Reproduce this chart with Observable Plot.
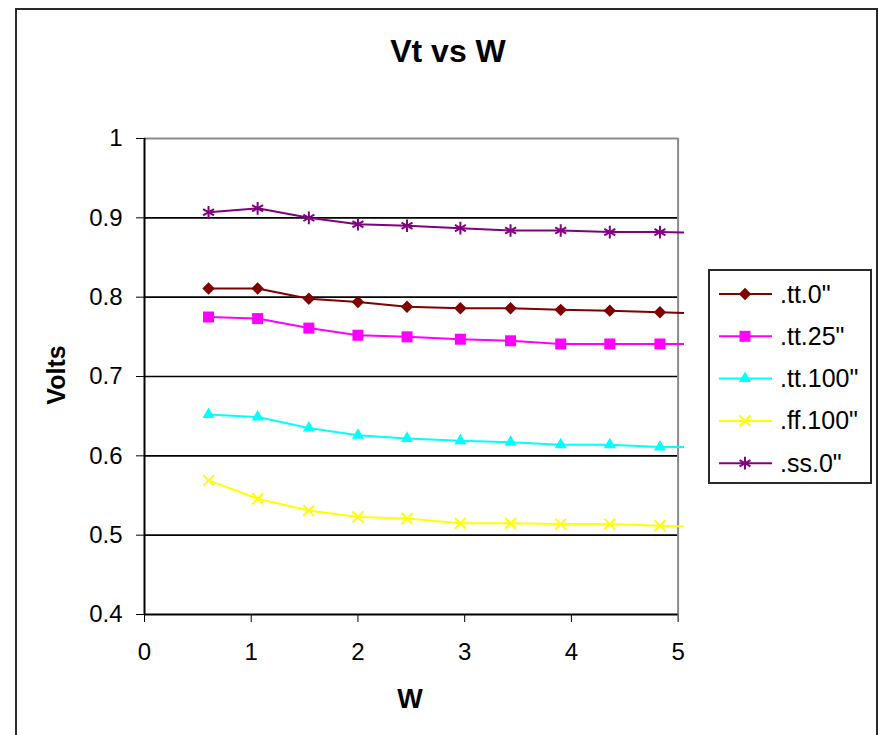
<!DOCTYPE html>
<html>
<head>
<meta charset="utf-8">
<script src="https://cdn.jsdelivr.net/npm/d3@7"></script>
<script src="https://cdn.jsdelivr.net/npm/@observablehq/plot@0.6"></script>
<style>
  html, body { margin: 0; padding: 0; background: #fff; }
  #wrap { position: relative; width: 879px; height: 735px; overflow: hidden; background: #fff; font-family: "Liberation Sans", Arial, sans-serif; }
  #wrap > svg, #wrap > div { position: absolute; left: 0; top: 0; }
  #frame { box-sizing: border-box; left: 15px !important; top: 8px !important; width: 863px; height: 780px; border: 2px solid #2a2a2a; pointer-events: none; }
  #overlay { pointer-events: none; }
</style>
</head>
<body>
<div id="wrap"></div>
<script>
// ---- data ----
const chartTitle = "Vt vs W";
const xTitle = "W";
const yTitle = "Volts";
const xVals = [0.6, 1.06, 1.54, 2.0, 2.46, 2.96, 3.43, 3.9, 4.36, 4.83, 5.3];
const seriesNames = ['.tt.0"', '.tt.25"', '.tt.100"', '.ff.100"', '.ss.0"'];
const tt0   = [0.811, 0.811, 0.798, 0.794, 0.788, 0.786, 0.786, 0.784, 0.783, 0.781, 0.779];
const tt25  = [0.775, 0.773, 0.761, 0.752, 0.750, 0.747, 0.745, 0.741, 0.741, 0.741, 0.741];
const tt100 = [0.652, 0.649, 0.635, 0.626, 0.622, 0.619, 0.617, 0.614, 0.614, 0.611, 0.611];
const ff100 = [0.569, 0.546, 0.531, 0.523, 0.521, 0.515, 0.515, 0.514, 0.514, 0.512, 0.510];
const ss0   = [0.907, 0.912, 0.900, 0.892, 0.890, 0.887, 0.884, 0.884, 0.882, 0.882, 0.881];
const xTicks = [0, 1, 2, 3, 4, 5];
const xTickLabels = ["0", "1", "2", "3", "4", "5"];
const yTicks = [0.4, 0.5, 0.6, 0.7, 0.8, 0.9, 1];
const yTickLabels = ["0.4", "0.5", "0.6", "0.7", "0.8", "0.9", "1"];
const gridY = [0.5, 0.6, 0.7, 0.8, 0.9];

// ---- styles ----
const colors = ["#800000", "#FF00FF", "#00FFFF", "#FFFF00", "#800080"];
const symbols = ["diamond2", "square2", "triangle2", "times", "asterisk"];
const radii = [5.6, 7, 5.8, 5, 6];
const filled = [true, true, true, false, false];

const seriesValues = [tt0, tt25, tt100, ff100, ss0];
const rows = seriesNames.flatMap((name, s) =>
  seriesValues[s].map((v, i) => ({series: name, x: xVals[i], y: v})));

const xMin = 0, xMax = 5, yMin = 0.4, yMax = 1;
const font = '"Liberation Sans", Arial, sans-serif';

const marks = [
  Plot.ruleY(gridY, {x1: xMin, x2: xMax, stroke: "#000", strokeWidth: 1.6}),
  Plot.ruleY([yMax], {x1: xMin, x2: xMax, stroke: "#8a8a8a", strokeWidth: 2}),
  Plot.ruleX([xMax], {y1: yMin, y2: yMax, stroke: "#8a8a8a", strokeWidth: 2}),
  Plot.ruleX([xMin], {y1: yMin, y2: yMax, stroke: "#000", strokeWidth: 2}),
  Plot.ruleY([yMin], {x1: xMin, x2: xMax, stroke: "#000", strokeWidth: 2})
];
seriesNames.forEach((name, s) => {
  const d = rows.filter(r => r.series === name);
  marks.push(Plot.line(d, {x: "x", y: "y", stroke: colors[s], strokeWidth: 2, clip: true}));
});
seriesNames.forEach((name, s) => {
  const d = rows.filter(r => r.series === name);
  marks.push(Plot.dot(d, filled[s]
    ? {x: "x", y: "y", symbol: symbols[s], r: radii[s], fill: colors[s], stroke: "none", clip: true}
    : {x: "x", y: "y", symbol: symbols[s], r: radii[s], fill: "none", stroke: colors[s], strokeWidth: 2, clip: true}));
});

const W = 879, H = 735;
const chart = Plot.plot({
  width: W,
  height: H,
  marginLeft: 144,
  marginRight: 195,
  marginTop: 138,
  marginBottom: 121,
  style: {fontSize: "24px", fontFamily: font, color: "#000", background: "#fff", overflow: "visible"},
  x: {domain: [xMin, 5.06], ticks: xTicks, tickFormat: d => xTickLabels[xTicks.indexOf(d)], tickSize: 8, tickPadding: 20, label: null},
  y: {domain: [yMin, yMax], ticks: yTicks, tickFormat: d => yTickLabels[yTicks.indexOf(d)], tickSize: 8, tickPadding: 14, label: null},
  marks
});
const wrap = document.getElementById("wrap");
wrap.appendChild(chart);

const frame = document.createElement("div");
frame.id = "frame";
wrap.appendChild(frame);

// ---- overlay: titles and legend ----
const ov = d3.create("svg").attr("id", "overlay").attr("width", W).attr("height", H)
  .style("font-family", font);
ov.append("text").attr("x", 448).attr("y", 61.5).attr("text-anchor", "middle")
  .attr("font-size", 32).attr("font-weight", "bold").text(chartTitle);
ov.append("text").attr("x", 410).attr("y", 707.5).attr("text-anchor", "middle")
  .attr("font-size", 27).attr("font-weight", "bold").text(xTitle);
ov.append("text").attr("transform", "translate(65,375) rotate(-90)").attr("text-anchor", "middle")
  .attr("font-size", 25).attr("font-weight", "bold").text(yTitle);

const lg = ov.append("g");
lg.append("rect").attr("x", 709).attr("y", 270).attr("width", 162).attr("height", 213)
  .attr("fill", "#fff").attr("stroke", "#2a2a2a").attr("stroke-width", 2);
const d3sym = {diamond2: d3.symbolDiamond2, square2: d3.symbolSquare2, triangle2: d3.symbolTriangle2, times: d3.symbolTimes, asterisk: d3.symbolAsterisk};
seriesNames.forEach((name, s) => {
  const cy = 294 + s * 42.3;
  const g = lg.append("g").attr("transform", `translate(0,${cy})`);
  g.append("line").attr("x1", 719).attr("x2", 772).attr("stroke", colors[s]).attr("stroke-width", 2);
  g.append("path").attr("transform", "translate(745,0)")
    .attr("d", d3.symbol(d3sym[symbols[s]], Math.PI * radii[s] * radii[s])())
    .attr("fill", filled[s] ? colors[s] : "none")
    .attr("stroke", filled[s] ? "none" : colors[s])
    .attr("stroke-width", 2);
  g.append("text").attr("x", 780).attr("y", 8.5).attr("font-size", 25).text(name);
});
wrap.appendChild(ov.node());
</script>
</body>
</html>
